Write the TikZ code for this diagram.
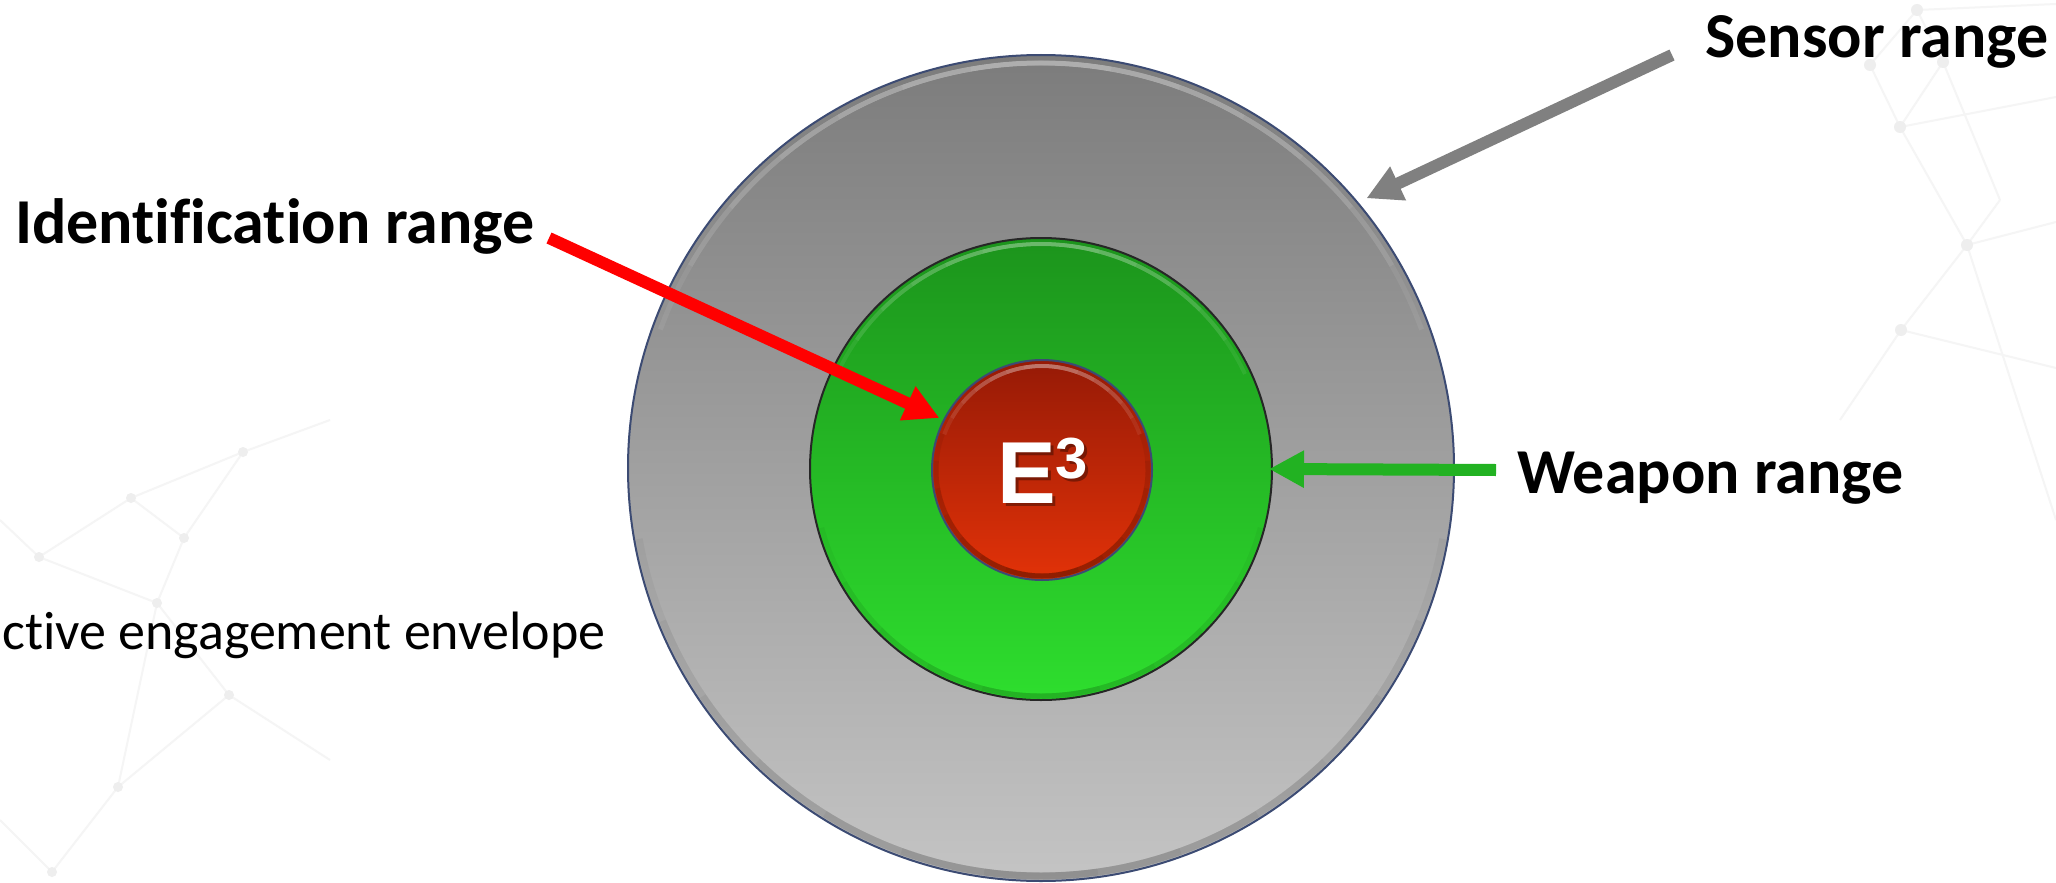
\documentclass[tikz,border=0pt]{standalone}
\usepackage{fontspec}
\setmainfont[Ligatures=NoCommon]{Carlito}
\newfontfamily\arialfont{Liberation Sans}
\usetikzlibrary{arrows.meta,calc}

\definecolor{grayarrow}{RGB}{128,128,128}
\definecolor{greenarrow}{RGB}{34,178,34}
\definecolor{redarrow}{RGB}{255,0,0}
\definecolor{rimblue}{RGB}{60,75,115}
\definecolor{gtop}{RGB}{124,124,124}
\definecolor{gbot}{RGB}{196,196,196}
\definecolor{grtop}{RGB}{28,148,28}
\definecolor{grbot}{RGB}{46,222,46}
\definecolor{rtop}{RGB}{150,26,6}
\definecolor{rbot}{RGB}{226,50,8}
\definecolor{netline}{RGB}{245,245,245}
\definecolor{netdot}{RGB}{238,238,238}

\begin{document}
\begin{tikzpicture}[x=1pt,y=-1pt,
  disc/.style={circle, inner sep=0pt, outer sep=0pt, line width=2pt},
  lbl/.style={font=\fontsize{64}{64}\selectfont\bfseries, anchor=base west, inner sep=0pt, text=black},
  pointer/.style={line width=12pt, -{Triangle[length=35pt,width=35pt]}},
  net/.style={draw=netline, line width=2pt},
  netpt/.style={fill=netdot},
  glint/.style={white, opacity=0.07},
  shade rim/.style={black, opacity=0.04},
]
\useasboundingbox (0,0) rectangle (2056,883);
\fill[white] (0,0) rectangle (2056,883);

% faint background network
\coordinate (n1) at (1917,10);
\coordinate (n2) at (1870,65);
\coordinate (n3) at (1943,62);
\coordinate (n4) at (1900,127);
\coordinate (n5) at (1967,245);
\coordinate (n6) at (1901,330);
\coordinate (n7) at (2000,200);
\draw[net] (n1) -- (n2) (n1) -- (n3) (n1) -- (2056,4) (n3) -- (n4) (n2) -- (n4)
  (n4) -- (2056,97) (n4) -- (n5) (n3) -- (n7) (n7) -- (n5) (n5) -- (n6)
  (n6) -- (2056,368) (n5) -- (2056,222) (n6) -- (1840,420) (n5) -- (2056,520);
\foreach \p in {n1,n2,n3,n4,n5,n6} \fill[netpt] (\p) circle[radius=6];
\coordinate (m1) at (243,452);
\coordinate (m2) at (131,498);
\coordinate (m3) at (184,538);
\coordinate (m4) at (39,557);
\coordinate (m5) at (229,695);
\coordinate (m6) at (118,787);
\coordinate (m7) at (52,872);
\coordinate (m8) at (157,603);
\draw[net] (m1) -- (m2) (m1) -- (m3) (m2) -- (m3) (m2) -- (m4) (m4) -- (0,520)
  (m3) -- (m8) (m8) -- (m4) (m8) -- (m5) (m5) -- (m6) (m6) -- (m7) (m6) -- (m8)
  (m7) -- (0,820) (m5) -- (330,760) (m1) -- (330,420);
\foreach \p in {m1,m2,m3,m4,m5,m6,m7,m8} \fill[netpt] (\p) circle[radius=5];

% discs
\node[disc, minimum size=826pt, draw=rimblue, top color=gtop, bottom color=gbot] (sensor) at (1041,468) {};
\foreach \d in {0,10,...,60}
  \draw[glint, line width=5pt] (sensor.center) ++(200+\d:405) arc[start angle=200+\d, end angle=340-\d, radius=405];
\foreach \d in {0,12,...,72}
  \draw[shade rim, line width=7pt] (sensor.center) ++(10+\d:408) arc[start angle=10+\d, end angle=170-\d, radius=408];

\node[disc, minimum size=462pt, draw=black!85, top color=grtop, bottom color=grbot] (weapon) at (1041,469) {};
\foreach \d in {0,10,...,50}
  \draw[glint, line width=4pt] (weapon.center) ++(205+\d:225) arc[start angle=205+\d, end angle=335-\d, radius=225];
\foreach \d in {0,15,...,60}
  \draw[shade rim, line width=5pt] (weapon.center) ++(15+\d:227) arc[start angle=15+\d, end angle=165-\d, radius=227];

\node[disc, minimum size=220pt, draw=rimblue, top color=rtop, bottom color=rbot] (ident) at (1042,470) {};
\foreach \d in {0,10,...,60}
  \draw[glint, line width=4pt] (ident.center) ++(200+\d:104) arc[start angle=200+\d, end angle=340-\d, radius=104];
\foreach \d in {0,15,...,90}
  \draw[shade rim, opacity=0.06, line width=5pt] (ident.center) ++(-20+\d:106) arc[start angle=-20+\d, end angle=200-\d, radius=106];

% E^3 label with soft shadow
\node[anchor=base west, inner sep=0pt, text=black, opacity=0.35] at (1000,506)
  {\arialfont\bfseries\fontsize{88}{88}\selectfont E\raisebox{25pt}{\fontsize{58}{58}\selectfont 3}};
\node[anchor=base west, inner sep=0pt, text=white] (eee) at (997,503)
  {\arialfont\bfseries\fontsize{88}{88}\selectfont E\raisebox{25pt}{\fontsize{58}{58}\selectfont 3}};

% labels
\node[lbl] (sensorlbl) at (1705,58) {Sensor range};
\node[lbl] (identlbl) at (15,243) {Identification range};
\node[lbl] (weaponlbl) at (1517,493) {Weapon range};
\node[anchor=base west, inner sep=0pt, font=\fontsize{54}{54}\selectfont] (envlbl) at (2,649) {ctive engagement envelope};

% pointers
\coordinate (sensortail) at (1672,55);
\coordinate (identtail) at (549,238);
\coordinate (weapontail) at (1496,470);
\draw[pointer, draw=grayarrow, fill=grayarrow, shorten >=10pt] (sensortail) -- (sensor.40.6);
\draw[pointer, draw=redarrow, fill=redarrow, shorten >=5pt] (identtail) -- (ident.153);
\draw[pointer, draw=greenarrow, fill=greenarrow, shorten >=-3pt] (weapontail) -- (weapon.east);
\end{tikzpicture}
\end{document}
